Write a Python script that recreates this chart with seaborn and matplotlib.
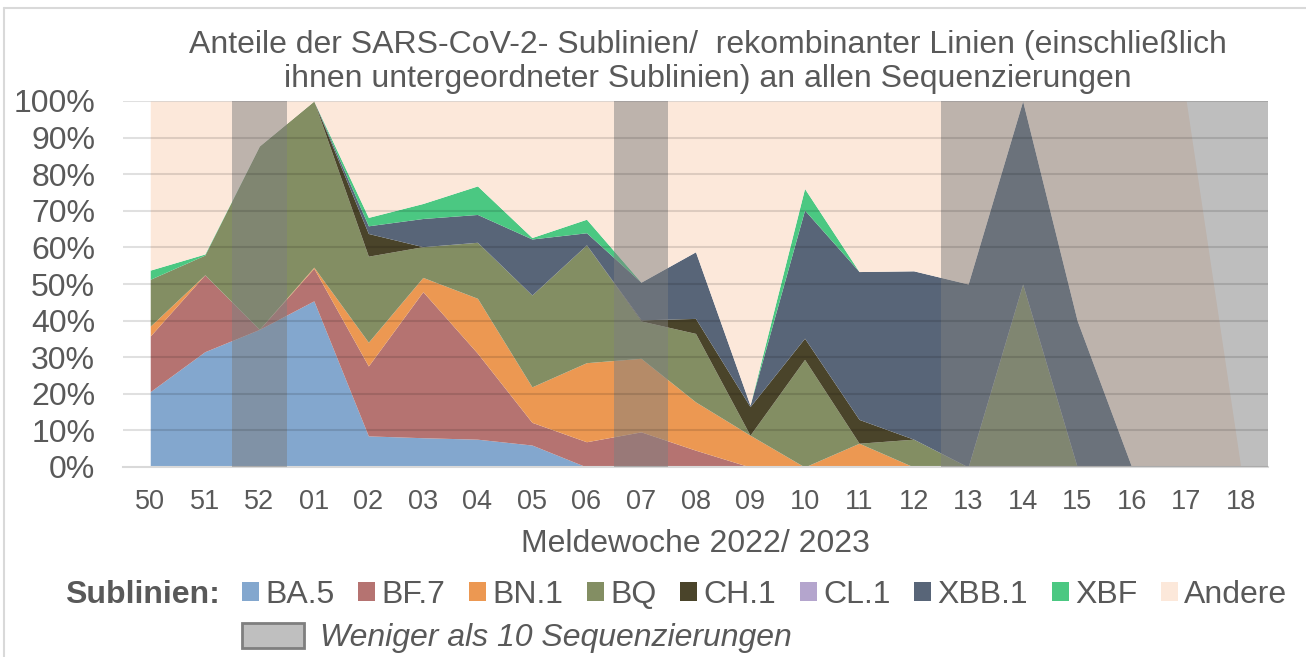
import numpy as np
import pandas as pd
import seaborn as sns
import matplotlib as mpl
mpl.use('Agg')
import matplotlib.pyplot as plt
from matplotlib.patches import Patch
from matplotlib.lines import Line2D

# Meldewochen 2022/2023
weeks = ['50', '51', '52', '01', '02', '03', '04', '05', '06', '07', '08',
         '09', '10', '11', '12', '13', '14', '15', '16', '17', '18']

# Anteile in Prozent
ba5 = [20.6, 31.5, 37.6, 45.4, 8.5, 8.0, 7.6, 6.0, 0, 0, 0,
       0, 0, 0, 0, 0, 0, 0, 0, 0, 0]
bf7 = [15.2, 21.0, 0, 8.9, 19.1, 39.9, 23.5, 6.2, 6.9, 9.6, 4.6,
       0, 0, 0, 0, 0, 0, 0, 0, 0, 0]
bn1 = [2.7, 0, 0, 0.3, 6.5, 3.9, 15.0, 9.7, 21.6, 20.1, 13.2,
       8.7, 0, 6.5, 0, 0, 0, 0, 0, 0, 0]
bq = [12.8, 5.4, 50.1, 45.4, 23.5, 8.4, 15.3, 25.1, 32.2, 10.2, 18.7,
      0, 29.4, 0, 7.6, 0, 50.0, 0, 0, 0, 0]
ch1 = [0, 0, 0, 0, 6.2, 0, 0, 0, 0, 0.3, 4.1,
       7.8, 5.8, 6.5, 0, 0, 0, 0, 0, 0, 0]
cl1 = [0, 0, 0, 0, 0, 0, 0, 0, 0, 0, 0,
       0, 0, 0, 0, 0, 0, 0, 0, 0, 0]
xbb1 = [0, 0, 0, 0, 2.1, 7.7, 7.6, 15.3, 3.3, 10.3, 18.2,
        0.4, 35.0, 40.4, 46.0, 50.0, 50.0, 40.0, 0, 0, 0]
xbf = [2.5, 0.3, 0, 0, 2.3, 4.1, 7.8, 0.4, 3.7, 0, 0,
       0, 5.9, 0, 0, 0, 0, 0, 0, 0, 0]
andere = [46.2, 41.8, 12.3, 0, 31.8, 28.0, 23.2, 37.3, 32.3, 49.5, 41.2,
          83.1, 23.9, 46.6, 46.4, 50.0, 0, 60.0, 100, 100, 0]

# Wochen mit weniger als 10 Sequenzierungen
few_seq_weeks = ['52', '07', '13', '14', '15', '16', '17', '18']

lineages = ['BA.5', 'BF.7', 'BN.1', 'BQ', 'CH.1', 'CL.1', 'XBB.1', 'XBF', 'Andere']
colors = ['#83a7ce', '#b57371', '#ec9852', '#838e63', '#4a442a',
          '#b4a5cd', '#586578', '#4bc882', '#fce8da']

df = pd.DataFrame({'BA.5': ba5, 'BF.7': bf7, 'BN.1': bn1, 'BQ': bq,
                   'CH.1': ch1, 'CL.1': cl1, 'XBB.1': xbb1, 'XBF': xbf,
                   'Andere': andere}, index=weeks)

sns.set_style('white')
plt.rcParams['font.family'] = ['Liberation Sans', 'DejaVu Sans']
txt = '#595959'
grid = '#d9d9d9'
fs = 23

W, H = 1306, 657
fig = plt.figure(figsize=(W / 100, H / 100), dpi=100)
ax = fig.add_axes([123 / W, 1 - 467 / H, (1268 - 123) / W, (467 - 101) / H])

x = np.arange(len(weeks))
ax.stackplot(x, [df[c].values for c in lineages], colors=colors, linewidth=0)

# graue Bereiche: zusammenhaengende Wochen zusammenfassen
idx = sorted(weeks.index(w) for w in few_seq_weeks)
runs = []
for i in idx:
    if runs and i == runs[-1][1] + 1:
        runs[-1][1] = i
    else:
        runs.append([i, i])
for a, b in runs:
    ax.axvspan(a - 0.5, b + 0.5, color='#7f7f7f', alpha=0.5, lw=0, zorder=3)

ax.set_xlim(-0.5, len(weeks) - 0.5)
ax.set_ylim(0, 100)
ax.set_yticks(range(0, 101, 10))
ax.set_yticklabels([f'{v}%' for v in range(0, 101, 10)])
ax.set_xticks(x)
ax.set_xticklabels(weeks)
ax.set_xticks(np.arange(-0.5, len(weeks)), minor=True)
ax.tick_params(axis='x', which='major', length=0, pad=16, labelsize=19.5, labelcolor=txt)
ax.tick_params(axis='x', which='minor', length=8, width=1.5, color=grid, direction='out')
ax.tick_params(axis='y', length=0, pad=20, labelsize=fs, labelcolor=txt)
for yv in range(10, 101, 10):
    ax.axhline(yv, color='black', alpha=0.12, lw=1.5, zorder=4)
sns.despine(ax=ax, left=True, top=True, right=True)
ax.spines['bottom'].set_color(grid)
ax.spines['bottom'].set_linewidth(1.5)
ax.set_xlabel('Meldewoche 2022/ 2023', fontsize=fs, color=txt, labelpad=10)

fig.text(708 / W, 1 - 62 / H,
         'Anteile der SARS-CoV-2- Sublinien/  rekombinanter Linien (einschließlich\n'
         'ihnen untergeordneter Sublinien) an allen Sequenzierungen',
         ha='center', va='center', fontsize=fs, color=txt, linespacing=1.18)

# Legende
fig.text(65 / W, 1 - 595 / H, 'Sublinien:', fontsize=fs, fontweight='bold',
         color=txt, ha='left', va='center')
handles = [Patch(facecolor=c, edgecolor='none') for c in colors]
leg = fig.legend(handles, lineages, ncol=len(lineages), loc='center left',
                 bbox_to_anchor=(242 / W, 1 - 595 / H), frameon=False, fontsize=fs,
                 handlelength=0.53, handleheight=0.53, handletextpad=0.19,
                 columnspacing=0.75, borderpad=0, borderaxespad=0)
for t in leg.get_texts():
    t.set_color(txt)
leg2 = fig.legend([Patch(facecolor='#bfbfbf', edgecolor='#7f7f7f', linewidth=2)],
                  ['Weniger als 10 Sequenzierungen'], loc='center left',
                  bbox_to_anchor=(242 / W, 1 - 638 / H), frameon=False, fontsize=fs,
                  handlelength=1.94, handleheight=0.85, handletextpad=0.5,
                  borderpad=0, borderaxespad=0)
for t in leg2.get_texts():
    t.set_color(txt)
    t.set_fontstyle('italic')

# Rahmen des Diagrammbereichs
fig.add_artist(Line2D([4 / W, 1], [1 - 8 / H, 1 - 8 / H], color=grid, lw=1.5))
fig.add_artist(Line2D([4 / W, 4 / W], [0, 1 - 8 / H], color=grid, lw=1.5))

fig.savefig('out.png', dpi=100)
